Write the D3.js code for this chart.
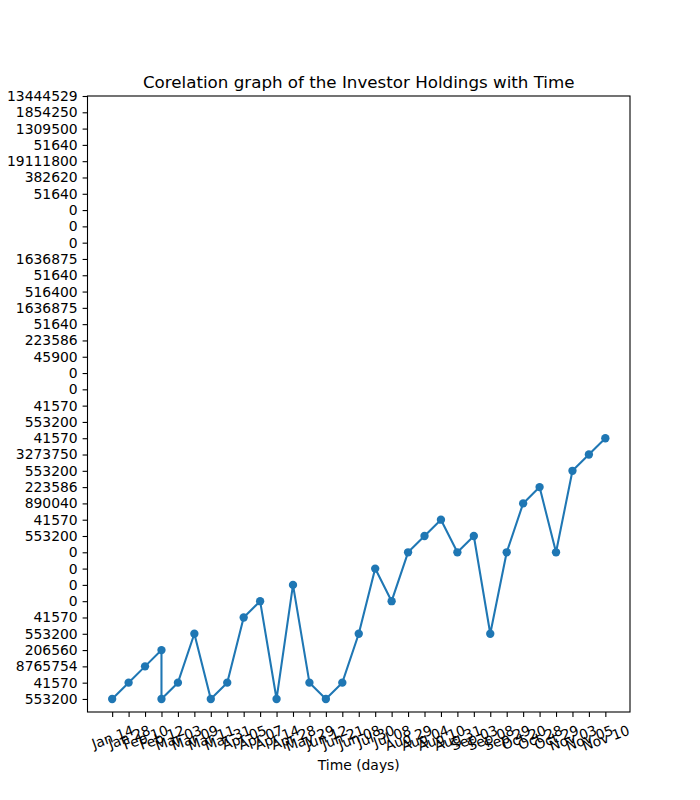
<!DOCTYPE html>
<html>
<head>
<meta charset="utf-8">
<script src="https://cdn.jsdelivr.net/npm/d3@7"></script>
<style>
  html, body { margin: 0; padding: 0; background: #fff; }
  svg { display: block; font-family: "DejaVu Sans", sans-serif; }
</style>
</head>
<body>
<svg id="chart" width="700" height="800"></svg>
<script>
// x-axis category labels (in axis order)
const xLabels = ["Jan 14","Jan 28","Feb 10","Feb 12","Mar 03","Mar 09","Mar 11","Mar 31",
  "Apr 05","Apr 07","Apr 14","Apr 28","May 29","Jun 12","Jun 21","Jun 08","Jul 30","Jul 08",
  "Aug 29","Aug 04","Aug 10","Aug 31","Sep 03","Sep 08","Sep 29","Oct 20","Oct 28","Oct 29",
  "Nov 03","Nov 05","Nov 10"];

// y-axis category labels, bottom to top
const yLabels = ["553200","41570","8765754","206560","553200","41570","0","0","0","0",
  "553200","41570","890040","223586","553200","3273750","41570","553200","41570","0","0",
  "45900","223586","51640","1636875","516400","51640","1636875","0","0","0","51640",
  "382620","19111800","51640","1309500","1854250","13444529"];

// series: date of each point and its y category position
const pointDates = ["Jan 14","Jan 28","Feb 10","Feb 12","Feb 12","Mar 03","Mar 09","Mar 11",
  "Mar 31","Apr 05","Apr 07","Apr 14","Apr 28","May 29","Jun 12","Jun 21","Jun 08","Jul 30",
  "Jul 08","Aug 29","Aug 04","Aug 10","Aug 31","Sep 03","Sep 08","Sep 29","Oct 20","Oct 28",
  "Oct 29","Nov 03","Nov 05","Nov 10"];
const pointYPos = [0,1,2,3,0,1,4,0,1,5,6,0,7,1,0,1,4,8,6,9,10,11,9,10,4,9,12,13,9,14,15,16];

const titleText = "Corelation graph of the Investor Holdings with Time";
const xTitle = "Time (days)";

const svg = d3.select("#chart");
const L = 87.5, R = 630, T = 96, B = 712;
const color = "#1f77b4";
const tickFont = 13.9;

const x = d3.scaleLinear().domain([-1.5, xLabels.length - 1 + 1.5]).range([L, R]);
const y = d3.scaleLinear().domain([-0.8, yLabels.length - 1]).range([B, T]);

// Y axis
const yAxis = d3.axisLeft(y)
  .tickValues(d3.range(yLabels.length))
  .tickFormat(i => yLabels[i])
  .tickSize(4.9).tickPadding(4.9);
const gy = svg.append("g").attr("transform", `translate(${L},0)`).call(yAxis);
gy.select(".domain").remove();
gy.selectAll(".tick line").attr("stroke", "#000").attr("stroke-width", 1.1);
gy.selectAll(".tick text").attr("font-size", tickFont).attr("fill", "#000")
  .attr("font-family", "DejaVu Sans, sans-serif");

// X axis
const xAxis = d3.axisBottom(x)
  .tickValues(d3.range(xLabels.length))
  .tickFormat(i => xLabels[i])
  .tickSize(4.9).tickPadding(4.9);
const gx = svg.append("g").attr("transform", `translate(0,${B})`).call(xAxis);
gx.select(".domain").remove();
gx.selectAll(".tick line").attr("stroke", "#000").attr("stroke-width", 1.1);
const ang = 20 * Math.PI / 180;
gx.selectAll(".tick text")
  .attr("font-size", tickFont).attr("fill", "#000")
  .attr("font-family", "DejaVu Sans, sans-serif")
  .attr("y", null).attr("dy", null)
  .attr("text-anchor", "middle")
  .each(function() {
    const t = d3.select(this);
    const w = this.getComputedTextLength();
    const h = tickFont * 1.17;
    const bh = w * Math.sin(ang) + h * Math.cos(ang);
    const cy = 4.9 + 4.9 + bh / 2;
    t.attr("transform", `translate(0,${cy}) rotate(-20)`).attr("dy", "0.36em");
  });

// Spines
svg.append("rect").attr("x", L).attr("y", T).attr("width", R - L).attr("height", B - T)
  .attr("fill", "none").attr("stroke", "#000").attr("stroke-width", 1.1);

// Line + markers
const pts = pointDates.map((d, i) => ({ xi: xLabels.indexOf(d), yi: pointYPos[i] }));
const line = d3.line().x(d => x(d.xi)).y(d => y(d.yi));
svg.append("path").datum(pts).attr("d", line)
  .attr("fill", "none").attr("stroke", color).attr("stroke-width", 2.08)
  .attr("stroke-linejoin", "round").attr("stroke-linecap", "square");
svg.append("g").selectAll("circle").data(pts).join("circle")
  .attr("cx", d => x(d.xi)).attr("cy", d => y(d.yi)).attr("r", 4.17)
  .attr("fill", color);

// Title
svg.append("text").attr("x", (L + R) / 2).attr("y", T - 8.3)
  .attr("text-anchor", "middle").attr("font-size", 16.7).attr("fill", "#000")
  .text(titleText);

// X label
svg.append("text").attr("x", (L + R) / 2).attr("y", 770)
  .attr("text-anchor", "middle").attr("font-size", tickFont).attr("fill", "#000")
  .text(xTitle);
</script>
</body>
</html>
